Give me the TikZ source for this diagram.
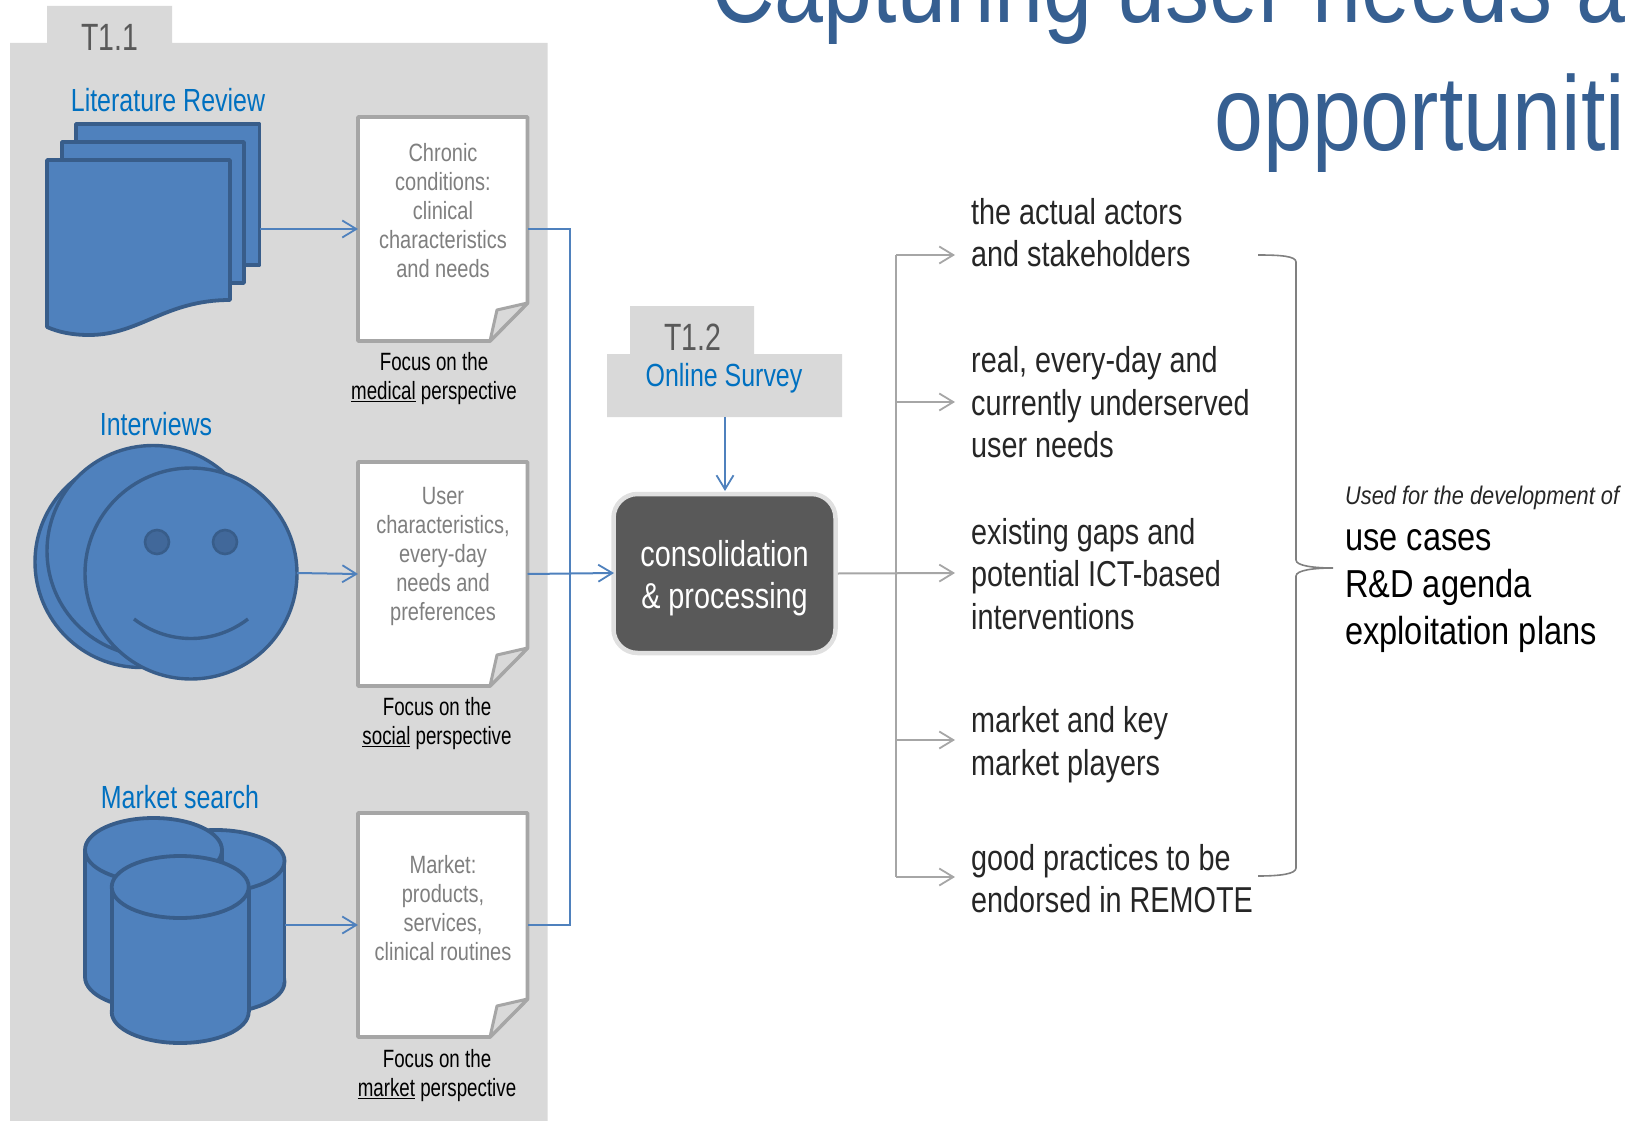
\documentclass[tikz,border=0pt]{standalone}
\usepackage{fontspec}
\setmainfont{Liberation Sans}
\newfontfamily\narrowf[FakeStretch=0.83]{Liberation Sans}
\newfontfamily\narrowg[FakeStretch=0.80]{Liberation Sans}
\newfontfamily\narrowl[FakeStretch=0.78]{Liberation Sans}
\newfontfamily\narrowt[FakeStretch=0.75]{Liberation Sans}
\newfontfamily\narrowr[FakeStretch=0.835]{Liberation Sans}
\newfontfamily\narrowi[FakeStretch=0.855]{Liberation Sans Italic}
\usetikzlibrary{arrows.meta,calc}
\definecolor{panel}{HTML}{D9D9D9}
\definecolor{bfill}{HTML}{4F81BD}
\definecolor{bdark}{HTML}{385D8A}
\definecolor{eyec}{HTML}{41689A}
\definecolor{lbl}{HTML}{0070C0}
\definecolor{lgray}{HTML}{A6A6A6}
\definecolor{txtg}{HTML}{7F7F7F}
\definecolor{tit}{HTML}{365F91}
\definecolor{darkb}{HTML}{595959}
\tikzset{
  x=1pt,y=-1pt,
  shp/.style={fill=bfill,draw=bdark,line width=3.8pt,line join=round},
  sheet/.style={fill=white,draw=lgray,line width=3.8pt,line join=round},
  fold/.style={fill=panel,draw=lgray,line width=3pt,line join=round},
  bluearr/.style={draw=bfill,line width=2pt,-{Straight Barb[length=14pt,width=17pt,line width=1.8pt]}},
  blueline/.style={draw=bfill,line width=2pt},
  grayarr/.style={draw=lgray,line width=2pt,-{Straight Barb[length=14pt,width=17pt,line width=1.8pt]}},
  grayline/.style={draw=lgray,line width=2.4pt},
  lab/.style={text=lbl,font=\narrowl\fontsize{32}{36}\selectfont,inner sep=0pt,anchor=center},
  tag/.style={text=darkb,font=\narrowt\fontsize{38}{40}\selectfont,inner sep=0pt},
  paptxt/.style={text=txtg,font=\narrowg\fontsize{25}{29}\selectfont,align=center,inner sep=0pt},
  focus/.style={text=black,font=\narrowt\fontsize{25}{29}\selectfont,align=center,inner sep=0pt},
  outtxt/.style={text=black!85,font=\narrowg\fontsize{36}{42.5}\selectfont,align=left,inner sep=0pt,anchor=west},
  righttxt/.style={text=black,font=\narrowr\fontsize{39}{47.3}\selectfont,align=left,inner sep=0pt,anchor=west},
  titletxt/.style={anchor=base west,inner sep=0pt,text=tit,font=\narrowf\fontsize{106}{106}\selectfont},
}
% cylinder: cx, rx, top-ellipse cy, ry, bottom-ellipse cy
\newcommand{\cylshape}[5]{%
  \draw[shp] (#1,#5) ellipse (#2 and #4);
  \fill[bfill] (#1-#2,#3) rectangle (#1+#2,#5);
  \draw[shp] (#1-#2,#3) -- (#1-#2,#5);
  \draw[shp] (#1+#2,#3) -- (#1+#2,#5);
  \draw[shp] (#1,#3) ellipse (#2 and #4);
}
\newcommand{\papershape}[2]{% name, top
  \draw[sheet] (358,#2) -- (527.5,#2) -- (527.5,#2+186) -- (490,#2+224) -- (358,#2+224) -- cycle;
  \draw[fold] (527.5,#2+186) -- (497,#2+193) -- (490,#2+224) -- cycle;
  \coordinate (#1l) at (358,#2+112);
  \coordinate (#1r) at (527.5,#2+112);
}
\begin{document}
\begin{tikzpicture}
\useasboundingbox (0,0) rectangle (1628,1121);
\begin{scope}
\clip (0,0) rectangle (1628,1121);
% title
\node[titletxt] (title1) at (711,22.5) {Capturing user needs a};
\node[titletxt] (title2) at (1214,150) {opportuniti};
% panels
\fill[panel] (10,43) -- (47,43) -- (47,6) -- (172,6) -- (172,43) -- (547.5,43) -- (547.5,1121) -- (10,1121) -- cycle;
\fill[panel] (607,354) -- (630,354) -- (630,306) -- (754,306) -- (754,354) -- (842,354) -- (842,417) -- (607,417) -- cycle;
\node[tag] (t11) at (110,37) {T1.1};
\node[tag] (t12) at (693,337) {T1.2};
\node[lab] (lit) at (168,100) {Literature Review};
\node[lab] (int) at (156,424) {Interviews};
\node[lab] (mkt) at (180,797) {Market search};
\node[lab] (onl) at (724,378) {Online Survey};
% multi-document
\draw[shp] (76,124) rectangle (259.5,265);
\draw[shp] (62,142) rectangle (244,283);
\draw[shp] (47,160) -- (230,160) -- (230,300) .. controls (165,300) and (140,335) .. (89,335) .. controls (72,335) and (58,332) .. (47,327) -- cycle;
\coordinate (docr) at (260,229);
% faces
\draw[shp,line width=3.4pt] (141,562) ellipse (106 and 105.5);
\draw[shp,line width=3.4pt] (153,551) ellipse (106 and 105.5);
\draw[shp,line width=3.4pt] (191,573.5) ellipse (106 and 105.5);
\draw[fill=eyec,draw=bdark,line width=2.6pt] (157,542) circle (12);
\draw[fill=eyec,draw=bdark,line width=2.6pt] (225,542) circle (12);
\draw[draw=bdark,line width=3.4pt] (134,619) .. controls (168,645) and (214,645) .. (248,619);
\coordinate (facer) at (297,573);
% cylinders
\cylshape{216}{68.5}{861}{31}{982}
\cylshape{153.5}{68.5}{850}{32}{977}
\cylshape{180.2}{68.5}{887}{31}{1012}
\coordinate (cylr) at (285,925);
% papers
\papershape{pa}{117}
\papershape{pb}{462}
\papershape{pc}{813}
\node[paptxt] (pat) at (443,211) {Chronic\\conditions:\\clinical\\characteristics\\and needs};
\node[paptxt] (pbt) at (443,556) {User\\characteristics,\\every-day\\needs and\\preferences};
\node[paptxt] (pct) at (443,908) {Market:\\products,\\services,\\clinical routines};
\node[focus] (fa) at (434,379) {Focus on the\\\underline{medical} perspective};
\node[focus] (fb) at (437,724) {Focus on the\\\underline{social} perspective};
\node[focus] (fc) at (437,1076) {Focus on the\\\underline{market} perspective};
% consolidation
\node[draw=black!12,line width=4.5pt,fill=darkb,rounded corners=24pt,minimum width=222pt,minimum height=159pt,inner sep=0pt] (cons) at (724.5,573.5) {};
\node[text=white,font=\narrowg\fontsize{36}{42}\selectfont,align=center,inner sep=0pt] (const) at (724.5,578.5) {consolidation\\\& processing};
\coordinate (consin) at (614,573);
% blue connectors
\draw[bluearr] (docr) -- (pal);
\draw[bluearr] (facer) -- (pbl);
\draw[bluearr] (cylr) -- (pcl);
\draw[blueline] (par) -| (570,925) -- (pcr);
\draw[bluearr] (pbr) -- (consin);
\draw[bluearr] (onl |- 0,417) ++(1,0) -- (725,491);
% gray connectors
\coordinate (ga) at (896,255);
\coordinate (gb) at (896,877);
\coordinate (t1) at (955,255);
\coordinate (t2) at (955,402);
\coordinate (t3) at (955,573);
\coordinate (t4) at (955,740);
\coordinate (t5) at (955,877);
\draw[grayline] (ga) -- (gb);
\draw[grayarr] (ga) -- (t1);
\draw[grayarr] (896,402) -- (t2);
\draw[grayarr] (cons.east) -- (t3);
\draw[grayarr] (896,740) -- (t4);
\draw[grayarr] (gb) -- (t5);
% outputs
\node[outtxt] (o1) at (971,232.5) {the actual actors\\and stakeholders};
\node[outtxt] (o2) at (971,402.5) {real, every-day and\\currently underserved\\user needs};
\node[outtxt] (o3) at (971,574) {existing gaps and\\potential ICT-based\\interventions};
\node[outtxt] (o4) at (971,744.5) {market and key\\market players};
\node[outtxt] (o5) at (971,878.5) {good practices to be\\endorsed in REMOTE};
% brace
\coordinate (bt) at (1258,255);
\coordinate (bb) at (1258,876);
\coordinate (btip) at (1333,568);
\draw[draw=gray,line width=1.6pt] (bt) .. controls (1280,255) and (1296,256) .. (1296,262) -- (1296,560) .. controls (1296,566) and (1315,568) .. (btip) .. controls (1315,568) and (1296,570) .. (1296,576) -- (1296,868) .. controls (1296,874) and (1280,876) .. (bb);
\node[anchor=west,inner sep=0pt,text=black!85,font=\narrowi\fontsize{25.5}{29}\selectfont] (used) at (1345,498) {Used for the development of};
\node[righttxt] (res) at (1345,591) {use cases\\R\&D agenda\\exploitation plans};
\end{scope}
\end{tikzpicture}
\end{document}
